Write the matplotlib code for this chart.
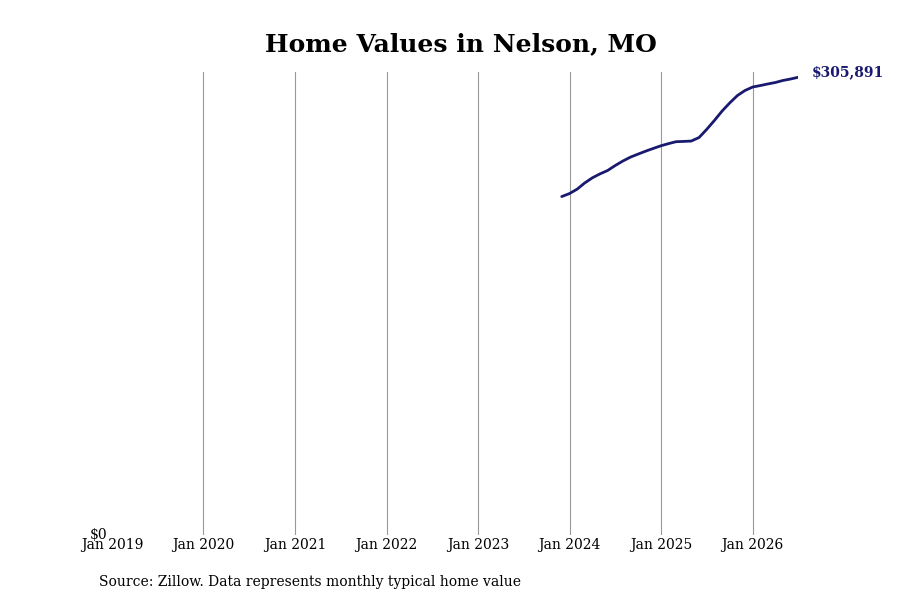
import matplotlib
matplotlib.use("Agg")
import matplotlib.pyplot as plt
import pandas as pd

title = "Home Values in Nelson, MO"
source = "Source: Zillow. Data represents monthly typical home value"
start_month = "2023-12-01"
values = [226200, 228200, 231200, 235200, 238700, 241300, 243600, 246900,
          249950, 252600, 254600, 256600, 258400, 260200, 261650, 262850,
          263050, 263300, 265650, 271000, 277000, 283350, 288700, 293700,
          297050, 299400, 300400, 301400, 302400, 303750, 304750, 305891]
dates = pd.date_range(start_month, periods=len(values), freq="MS")
tick_years = list(range(2019, 2027))
tick_dates = [pd.Timestamp(f"{y}-01-01") for y in tick_years]
tick_labels = [f"Jan {y}" for y in tick_years]

plt.rcParams['font.family'] = ['DejaVu Serif']
fig = plt.figure(figsize=(9, 6), dpi=100)
ax = fig.add_axes([0.1244, 0.1083, 0.7623, 0.7717])
ax.plot(dates, values, color="#191970", linewidth=2, solid_capstyle="round")
ax.set_xlim(pd.Timestamp("2019-01-01"), dates[-1])
ax.set_ylim(0, values[-1] * 1.0116)
ax.set_xticks(tick_dates)
ax.set_xticklabels(tick_labels, fontsize=10)
ax.set_yticks([0])
ax.set_yticklabels(["$0"], fontsize=10)
ax.tick_params(axis="both", length=0)
ax.tick_params(axis="x", pad=2)
ax.tick_params(axis="y", pad=3)
for lbl in ax.get_yticklabels():
    lbl.set_verticalalignment("center")
ax.grid(axis="x", color="#999999", linewidth=0.8)
ax.grid(axis="y", visible=False)
ax.get_xgridlines()[0].set_visible(False)
for s in ax.spines.values():
    s.set_visible(False)
ax.annotate(f"${values[-1]:,}", xy=(dates[-1], values[-1]), xytext=(14, 5),
            textcoords="offset pixels", color="#191970", fontsize=10,
            fontweight="bold", va="center", ha="left")
fig.text(0.512, 0.927, title, ha="center", va="center", fontsize=18, fontweight="bold")
fig.text(0.11, 0.03, source, ha="left", va="center", fontsize=10)
fig.savefig("out.png", dpi=100)
